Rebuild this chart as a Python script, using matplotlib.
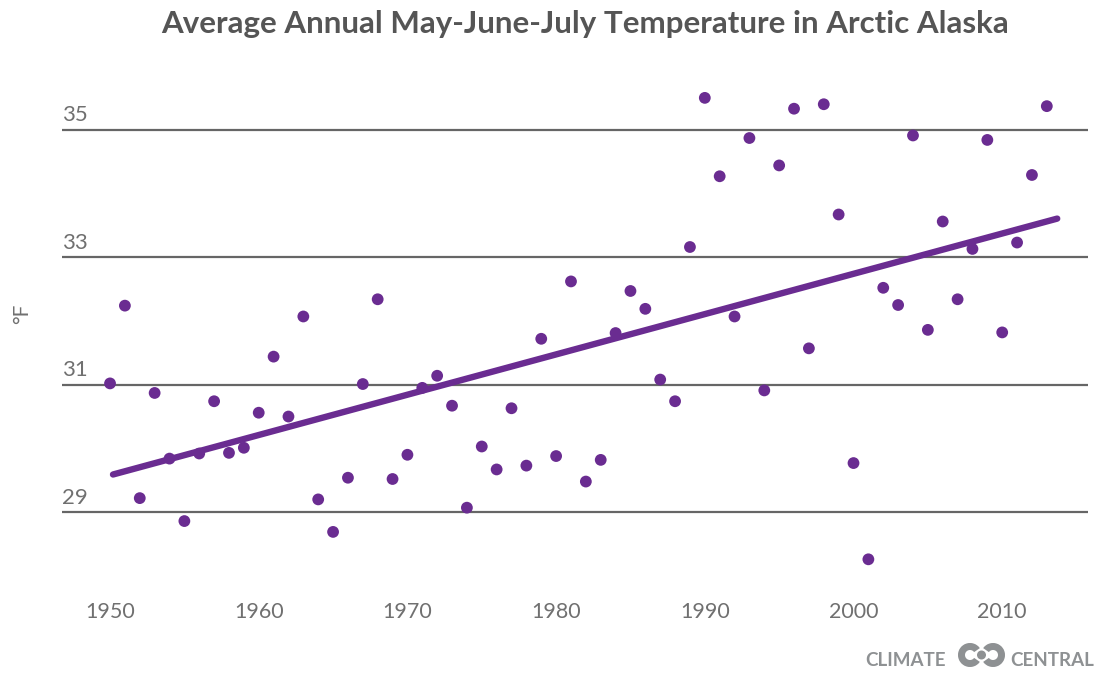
import numpy as np
import matplotlib
matplotlib.use('Agg')
import matplotlib.pyplot as plt
from matplotlib.patches import Circle, Wedge

years = list(range(1950, 2014))
temps = [31.02, 32.24, 29.22, 30.87, 29.84, 28.86, 29.92, 30.74, 29.93, 30.01,
         30.56, 31.44, 30.50, 32.07, 29.20, 28.69, 29.54, 31.01, 32.34, 29.52,
         29.90, 30.95, 31.14, 30.67, 29.07, 30.03, 29.67, 30.63, 29.73, 31.72,
         29.88, 32.62, 29.48, 29.82, 31.81, 32.47, 32.19, 31.08, 30.74, 33.16,
         35.50, 34.27, 32.07, 34.87, 30.91, 34.44, 35.33, 31.57, 35.40, 33.67,
         29.77, 28.26, 32.52, 32.25, 34.91, 31.86, 33.56, 32.34, 33.13, 34.84,
         31.82, 33.23, 34.29, 35.37]
y_ticks = [29, 31, 33, 35]
x_ticks = [1950, 1960, 1970, 1980, 1990, 2000, 2010]
title = 'Average Annual May-June-July Temperature in Arctic Alaska'

purple = '#6a2c91'
grid_col = '#666666'
label_col = '#707070'

fig = plt.figure(figsize=(11.07, 6.73), dpi=100)
ax = fig.add_axes([62 / 1107, 1 - 595 / 673, (1088 - 62) / 1107, (595 - 66) / 673])
ax.set_xlim(1946.77, 2015.77)
ax.set_ylim(27.7, 36.0)

for t in y_ticks:
    ax.axhline(t, color=grid_col, lw=1.6, zorder=1)
    ax.text(1946.77, t + 0.07, str(t), color=label_col, fontsize=16,
            family='Lato', fontweight='normal', ha='left', va='bottom')

ax.scatter(years, temps, s=72, color=purple, edgecolors='none', zorder=3)

# linear trend
coef = np.polyfit(years, temps, 1)
xs = np.array([1950.2, 2013.7])
ax.plot(xs, np.polyval(coef, xs), color=purple, lw=4.6,
        solid_capstyle='round', zorder=2)

ax.set_xticks(x_ticks)
ax.set_xticklabels([str(x) for x in x_ticks], color=label_col, fontsize=15.5,
                   family='Lato', fontweight='normal')
ax.tick_params(axis='x', length=0, pad=5)
ax.set_yticks([])
for s in ax.spines.values():
    s.set_visible(False)

fig.text(22 / 1107, 1 - 314 / 673, '°F', rotation=90, color=label_col,
         fontsize=15, family='Lato', fontweight='normal', ha='center', va='center')

fig.text(585 / 1107, 1 - 24 / 673, title, color='#555555', fontsize=22.5,
         family='Lato', fontweight='bold', ha='center', va='center')

# logo
logo_col = '#8e9193'
fig.text(946 / 1107, 1 - 660 / 673, 'CLIMATE', color=logo_col, fontsize=13.5,
         family='Lato', fontweight='bold', ha='right', va='center')
fig.text(1010 / 1107, 1 - 660 / 673, 'CENTRAL', color=logo_col, fontsize=13.5,
         family='Lato', fontweight='bold', ha='left', va='center')
cy = 673 - 655
fig.patches.append(Wedge((970, cy), 12, 35, 325, width=7, transform=None,
                         facecolor=logo_col, edgecolor='none'))
fig.patches.append(Wedge((993, cy), 12, -145, 145, width=7, transform=None,
                         facecolor=logo_col, edgecolor='none'))
fig.patches.append(Circle((981.5, cy), 4.5, transform=None,
                          facecolor=logo_col, edgecolor='none'))

fig.savefig('out.png', dpi=100)
